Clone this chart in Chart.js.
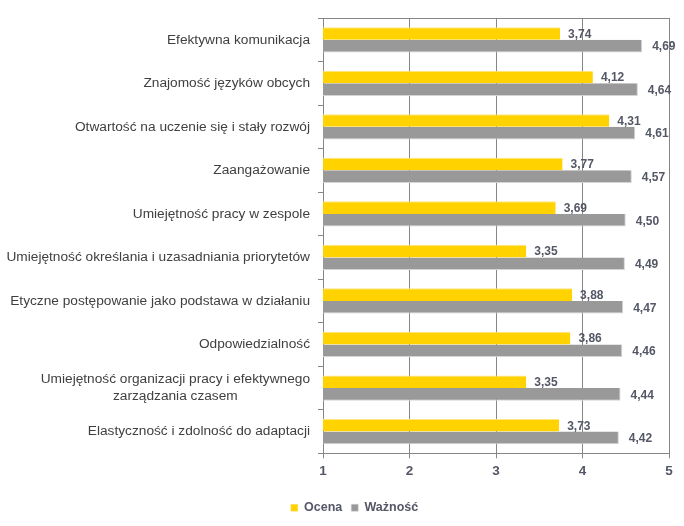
<!DOCTYPE html>
<html>
<head>
<meta charset="utf-8">
<script src="https://cdn.jsdelivr.net/npm/chart.js@4/dist/chart.umd.min.js"></script>
<style>
  html, body { margin: 0; padding: 0; background: #fff; }
  #wrap { width: 684px; height: 526px; }
</style>
</head>
<body>
<div id="wrap"><canvas id="skills-chart" width="684" height="526"></canvas></div>
<script>
// Categories (multi-line labels as arrays)
const categories = [
    'Efektywna komunikacja',
    'Znajomość języków obcych',
    'Otwartość na uczenie się i stały rozwój',
    'Zaangażowanie',
    'Umiejętność pracy w zespole',
    'Umiejętność określania i uzasadniania priorytetów',
    'Etyczne postępowanie jako podstawa w działaniu',
    'Odpowiedzialność',
    ['Umiejętność organizacji pracy i efektywnego', 'zarządzania czasem'],
    'Elastyczność i zdolność do adaptacji'
];
const ocena = [3.74, 4.12, 4.31, 3.77, 3.69, 3.35, 3.88, 3.86, 3.35, 3.73];
const waznosc = [4.69, 4.64, 4.61, 4.57, 4.50, 4.49, 4.47, 4.46, 4.44, 4.42];
const xTicks = [1, 2, 3, 4, 5];

const FONT = '"Liberation Sans", Arial, sans-serif';
const AXIS_COLOR = '#868686';
const TEXT_COLOR = '#545766';

// Category labels: right aligned block, lines centered within the block
const categoryLabels = {
    id: 'categoryLabels',
    afterDraw(chart) {
        const ctx = chart.ctx;
        const y = chart.scales.y;
        const right = chart.chartArea.left - 13;
        const lineH = 17;
        ctx.save();
        ctx.font = '13.7px ' + FONT;
        ctx.fillStyle = '#404040';
        ctx.textBaseline = 'middle';
        ctx.textAlign = 'center';
        categories.forEach((label, i) => {
            const lines = Array.isArray(label) ? label : [label];
            const w = Math.max(...lines.map(l => ctx.measureText(l).width));
            const cx = right - w / 2;
            const cy = y.getPixelForValue(i);
            const top = cy - (lines.length - 1) * lineH / 2;
            lines.forEach((l, k) => ctx.fillText(l, cx, top + k * lineH));
        });
        ctx.restore();
    }
};

// Value labels to the right of each bar
const valueLabels = {
    id: 'valueLabels',
    afterDatasetsDraw(chart) {
        const ctx = chart.ctx;
        ctx.save();
        ctx.font = 'bold 12px ' + FONT;
        ctx.fillStyle = TEXT_COLOR;
        ctx.textBaseline = 'middle';
        ctx.textAlign = 'left';
        chart.data.datasets.forEach((ds, di) => {
            chart.getDatasetMeta(di).data.forEach((bar, i) => {
                const txt = ds.data[i].toFixed(2).replace('.', ',');
                ctx.fillText(txt, bar.x + (di === 0 ? 8 : 10), bar.y + 1);
            });
        });
        ctx.restore();
    }
};

// Plot frame top line
const frame = {
    id: 'frame',
    afterDraw(chart) {
        const a = chart.chartArea;
        const ctx = chart.ctx;
        ctx.save();
        ctx.strokeStyle = AXIS_COLOR;
        ctx.lineWidth = 1;
        ctx.beginPath();
        ctx.moveTo(a.left, a.top + 0.5);
        ctx.lineTo(a.right, a.top + 0.5);
        ctx.stroke();
        ctx.restore();
    }
};

new Chart(document.getElementById('skills-chart').getContext('2d'), {
    type: 'bar',
    data: {
        labels: categories,
        datasets: [{
            label: 'Ocena',
            data: ocena,
            backgroundColor: '#FFD200',
            borderColor: '#FFE680',
            borderWidth: { top: 1, right: 0, bottom: 0, left: 0 },
            categoryPercentage: 0.58,
            barPercentage: 1.0
        }, {
            label: 'Ważność',
            data: waznosc,
            backgroundColor: '#999999',
            borderColor: '#D4D4D4',
            borderWidth: { top: 0, right: 1, bottom: 1, left: 0 },
            categoryPercentage: 0.58,
            barPercentage: 1.0
        }]
    },
    options: {
        indexAxis: 'y',
        responsive: false,
        animation: false,
        layout: { padding: { top: 18, right: 15, left: 40, bottom: 2 } },
        plugins: {
            legend: {
                position: 'bottom',
                labels: {
                    boxWidth: 7,
                    boxHeight: 7,
                    padding: 9,
                    color: TEXT_COLOR,
                    font: { family: FONT, size: 12.5, weight: 'bold' }
                }
            },
            tooltip: { enabled: false }
        },
        scales: {
            x: {
                min: 1,
                max: 5,
                afterBuildTicks: scale => { scale.ticks = xTicks.map(v => ({ value: v })); },
                afterFit: scale => { scale.height += 8; },
                ticks: {
                    color: TEXT_COLOR,
                    font: { family: FONT, size: 13.5, weight: 'bold' },
                    padding: 5
                },
                grid: {
                    color: AXIS_COLOR,
                    tickLength: 5,
                    drawTicks: true
                },
                border: { color: AXIS_COLOR }
            },
            y: {
                afterFit: scale => { scale.width = 283; },
                ticks: { display: false },
                grid: {
                    offset: true,
                    drawOnChartArea: false,
                    color: AXIS_COLOR,
                    tickLength: 5
                },
                border: { color: AXIS_COLOR }
            }
        }
    },
    plugins: [categoryLabels, valueLabels, frame]
});
</script>
</body>
</html>
